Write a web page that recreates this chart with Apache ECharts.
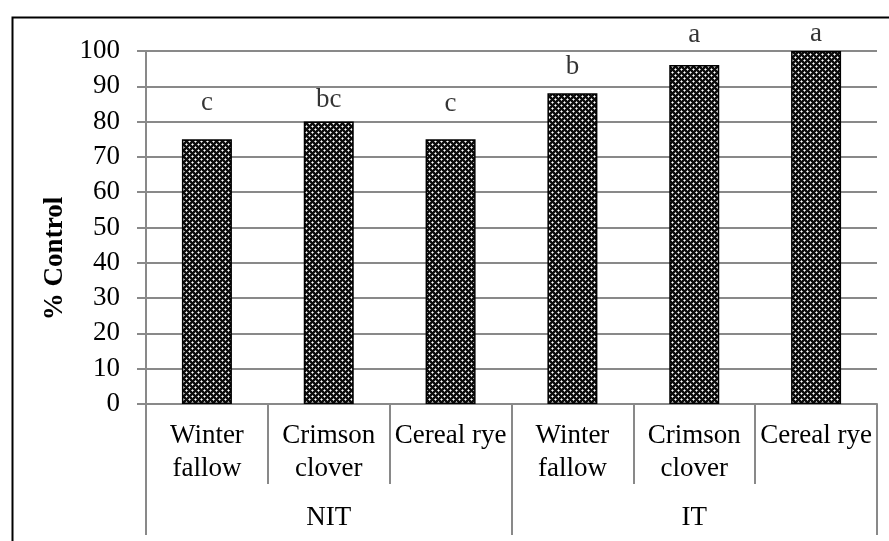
<!DOCTYPE html>
<html>
<head>
<meta charset="utf-8">
<script src="https://cdn.jsdelivr.net/npm/echarts@6/dist/echarts.min.js"></script>
<style>
  html, body { margin: 0; padding: 0; background: #fff; }
  #chart { width: 889px; height: 541px; }
</style>
</head>
<body>
<div id="chart"></div>
<script>
var categories = ["Winter\nfallow", "Crimson\nclover", "Cereal rye", "Winter\nfallow", "Crimson\nclover", "Cereal rye"];
var groups = ["NIT", "IT"];
var control = [75, 80, 75, 88, 96, 100];
var letters = ["c", "bc", "c", "b", "a", "a"];
// height (in % units) where each letter sits
var letterY = [81.6, 82.4, 81.3, 91.8, 100.8, 101.1];

// dotted-grid fill like the excel pattern (K black, G gray, W white)
function makePattern() {
  var rows = [
    "WGKKKG",
    "GKKKKK",
    "KKKGKK",
    "KKGWGK",
    "KKKGKK",
    "GKKKKK"
  ];
  var cols = { K: "#0d0d0d", G: "#a6a6a6", W: "#ffffff" };
  var c = document.createElement("canvas");
  c.width = 6;
  c.height = 6;
  var ctx = c.getContext("2d");
  for (var y = 0; y < 6; y++) {
    for (var x = 0; x < 6; x++) {
      ctx.fillStyle = cols[rows[y][x]];
      ctx.fillRect(x, y, 1, 1);
    }
  }
  return c;
}

var font = "Liberation Serif";
var chart = echarts.init(document.getElementById("chart"));
chart.setOption({
  animation: false,
  backgroundColor: "#fff",
  graphic: [
    {
      type: "rect",
      left: 10,
      top: 15,
      shape: { width: 878, height: 600 },
      style: { fill: null, stroke: "#000", lineWidth: 2 },
      silent: true
    }
  ],
  grid: {
    left: 146,
    right: 12,
    top: 51,
    bottom: 137,
    containLabel: false
  },
  xAxis: [
    {
      type: "category",
      data: categories,
      position: "bottom",
      axisLine: { lineStyle: { color: "#898989", width: 2 } },
      axisTick: {
        show: true,
        interval: 0,
        length: 80,
        lineStyle: { color: "#898989", width: 2 }
      },
      axisLabel: {
        interval: 0,
        margin: 15,
        color: "#000",
        fontFamily: font,
        fontSize: 27,
        lineHeight: 33,
        verticalAlign: "top"
      }
    },
    {
      type: "category",
      data: groups,
      position: "bottom",
      offset: 0,
      axisLine: { show: false },
      axisTick: {
        show: true,
        interval: 0,
        length: 131,
        lineStyle: { color: "#898989", width: 2 }
      },
      axisLabel: {
        interval: 0,
        margin: 101,
        color: "#000",
        fontFamily: font,
        fontSize: 27,
        lineHeight: 26
      }
    }
  ],
  yAxis: {
    type: "value",
    min: 0,
    max: 100,
    interval: 10,
    name: "% Control",
    nameLocation: "middle",
    nameGap: 74,
    nameTextStyle: {
      color: "#000",
      fontFamily: font,
      fontSize: 27,
      fontWeight: "bold",
      padding: [0, 62, 0, 0]
    },
    axisLine: { show: true, lineStyle: { color: "#898989", width: 2 } },
    axisTick: { show: true, length: 9, lineStyle: { color: "#898989", width: 2 } },
    splitLine: { show: true, lineStyle: { color: "#898989", width: 2 } },
    axisLabel: {
      margin: 26,
      color: "#000",
      fontFamily: font,
      fontSize: 27
    }
  },
  series: [
    {
      name: "% Control",
      type: "bar",
      xAxisIndex: 0,
      barWidth: 50,
      data: control,
      itemStyle: {
        color: { image: makePattern(), repeat: "repeat" },
        borderColor: "#000",
        borderWidth: 1.5
      }
    },
    {
      name: "letters",
      type: "scatter",
      xAxisIndex: 0,
      clip: false,
      symbolSize: 0,
      silent: true,
      data: letterY,
      label: {
        show: true,
        position: "inside",
        verticalAlign: "bottom",
        align: "center",
        color: "#000",
        fontFamily: font,
        fontSize: 27,
        lineHeight: 26,
        formatter: function (p) {
          return letters[p.dataIndex];
        }
      }
    }
  ]
});
</script>
</body>
</html>
